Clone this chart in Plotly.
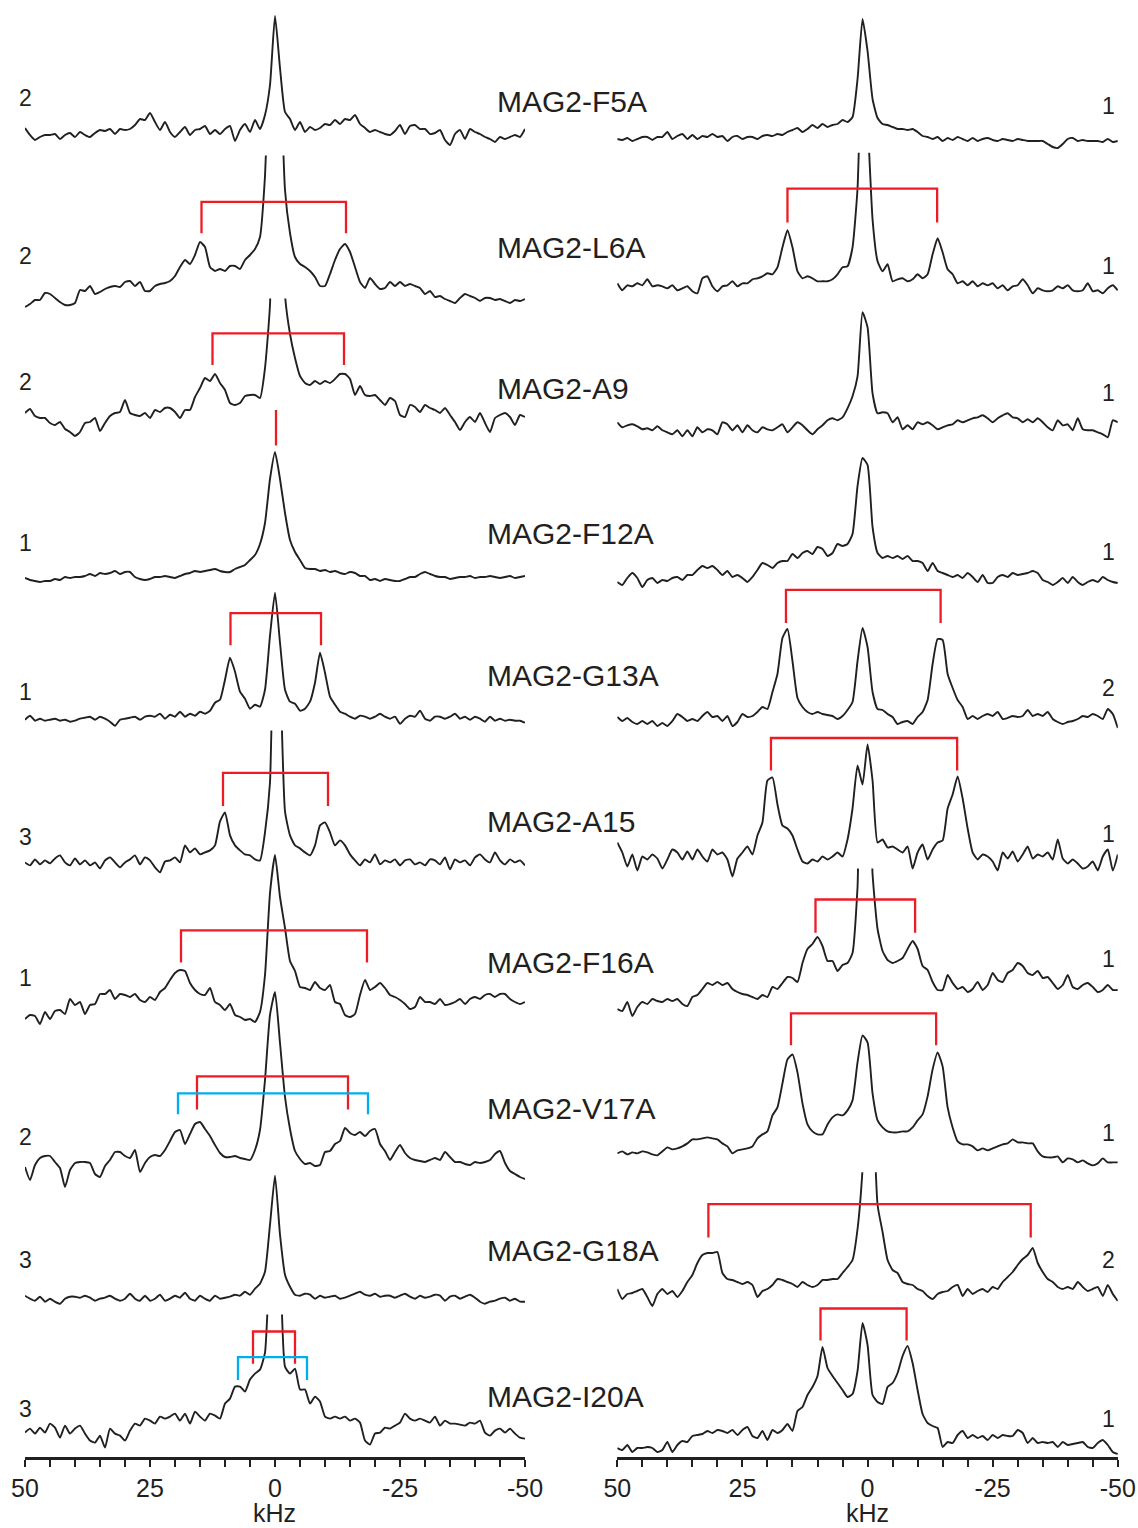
import plotly.graph_objects as go

# ---------------- data ----------------
KHZ = list(range(50, -51, -1))  # sampling grid, kHz (50 ... -50)

ROW_NAMES = ["MAG2-F5A", "MAG2-L6A", "MAG2-A9", "MAG2-F12A", "MAG2-G13A",
             "MAG2-A15", "MAG2-F16A", "MAG2-V17A", "MAG2-G18A", "MAG2-I20A"]
LEFT_SCALE = ["2", "2", "2", "1", "1", "3", "1", "2", "3", "3"]
RIGHT_SCALE = ["1", "1", "1", "1", "2", "1", "1", "1", "2", "1"]
TICK_VALS = [50, 25, 0, -25, -50]
TICK_TEXT = ["50", "25", "0", "-25", "-50"]

# left column spectra (intensity, arbitrary units), k = 50 ... -50
L_F5A = [5, -2, -7, -4, -2, -2, -1, -6, -2, 0,
         -4, 1, -2, -4, 0, 3, 2, 4, -1, 4,
         3, 4, 8, 14, 13, 20, 11, 3, 11, 1,
         -4, 1, 6, -2, 3, 4, 7, -1, 3, -1,
         4, 7, -8, 3, 9, 1, 13, 4, 18, 48,
         117,
         65, 21, 14, 3, 11, 1, 6, 3, 5, 9,
         8, 13, 9, 14, 13, 18, 9, 5, 1, 3,
         1, -1, -2, 2, 8, -1, 7, 8, 4, 4,
         -1, 0, 3, -7, -12, -1, 3, -6, 4, 1,
         -1, -4, -6, -9, -4, -6, -4, -2, -4, 4]
L_L6A = [-9, -6, -2, -2, 5, 4, 0, -4, -7, -7,
         -5, 8, 7, 12, 4, 6, 9, 11, 12, 11,
         16, 17, 12, 16, 7, 7, 12, 14, 15, 17,
         22, 31, 38, 34, 43, 56, 51, 31, 27, 29,
         27, 32, 32, 29, 38, 43, 49, 61, 122, 250,
         400,
         250, 108, 65, 41, 34, 31, 27, 21, 12, 12,
         24, 38, 49, 54, 46, 31, 16, 10, 20, 14,
         9, 10, 16, 12, 16, 12, 14, 12, 10, 4,
         7, 1, 2, -1, -3, -5, 0, 4, 2, 0,
         -3, 0, 0, -2, -1, -3, -5, -2, -3, -1]
L_A9 = [2, 6, -1, -3, -3, -8, -10, -7, -14, -17,
        -21, -17, -8, -7, -3, -16, -8, -1, 2, 3,
        15, 2, 0, -1, 2, -3, 5, 3, 7, 7,
        3, -3, 5, 5, 18, 27, 37, 34, 41, 32,
        25, 12, 10, 12, 19, 20, 20, 17, 47, 110,
        300,
        300, 120, 81, 57, 39, 32, 30, 34, 31, 34,
        32, 36, 41, 41, 36, 20, 29, 20, 19, 20,
        15, 10, 17, 14, 0, -2, 10, 8, 3, 10,
        7, 5, 2, 7, 0, -7, -15, -7, -2, -7,
        2, -8, -17, -3, 0, 2, -2, -10, 0, -2]
L_F12A = [1, -1, -2, -3, -2, -2, 0, -1, 2, 1,
          2, 2, 3, 5, 3, 6, 5, 6, 8, 5,
          7, 7, 2, 0, -1, 0, 2, 2, 3, 2,
          1, 3, 5, 6, 8, 7, 8, 9, 10, 8,
          7, 7, 10, 12, 14, 19, 24, 35, 56, 100,
          127,
          100, 66, 39, 27, 19, 11, 10, 10, 8, 9,
          7, 8, 6, 5, 7, 6, 3, 3, -1, 0,
          -2, 0, -1, -2, -2, 0, 2, 2, 5, 7,
          5, 3, 2, 2, 0, 1, 2, 2, 3, 1,
          2, 2, 3, 2, 1, 2, 3, 1, 2, 3]
L_G13A = [-1, 3, -2, 0, -2, -1, 0, -2, -1, -3,
          -2, 0, 1, 2, -1, 2, 0, -3, -7, -1,
          0, 1, 2, -1, 2, 3, 2, 5, 0, 4,
          2, 7, 2, 5, 3, 7, 5, 8, 16, 19,
          39, 61, 47, 27, 20, 10, 14, 12, 29, 83,
          126,
          76, 29, 17, 15, 8, 10, 17, 36, 66, 46,
          22, 14, 7, 5, 2, 0, 3, 2, 0, 2,
          5, 2, 0, 2, -5, 0, 3, 2, 8, 0,
          -2, 2, 2, 0, 2, 5, 0, 2, -1, 2,
          0, -3, 2, -2, 0, -2, -1, -2, -2, -4]
L_A15 = [0, -3, 3, -2, 2, -1, 4, 7, 0, -3,
         4, -2, 2, -3, 0, -6, 2, 5, 0, -5,
         0, 3, 7, -2, 5, 2, -5, -10, 1, 2,
         5, 0, 17, 10, 14, 8, 10, 12, 17, 41,
         50, 27, 17, 12, 8, 7, 3, 2, 30, 80,
         300,
         200, 51, 27, 17, 14, 10, 7, 17, 37, 40,
         30, 17, 22, 17, 8, 2, -3, 3, 0, 8,
         -2, 2, 0, 3, -3, 2, 3, -2, 0, -3,
         3, 2, -2, 5, -7, 3, 0, 2, -3, 5,
         8, 3, 0, 10, 2, -2, 3, 0, 2, -3]
L_F16A = [-14, -10, -11, -19, -7, -14, -6, -5, -9, 6,
          0, 3, -9, 0, 1, 11, 11, 15, 6, 11,
          10, 8, 11, 5, 3, 8, 5, 13, 17, 25,
          32, 35, 34, 22, 15, 11, 10, 17, 3, 0,
          -5, 1, -10, -12, -15, -14, -17, -7, 30, 112,
          150,
          108, 77, 44, 34, 18, 17, 15, 23, 17, 15,
          20, 3, 1, -10, -12, -9, 10, 25, 15, 18,
          22, 17, 10, 8, 5, 1, -4, -2, 8, 3,
          3, 1, 6, 0, 1, 3, 6, 1, 6, 8,
          6, 10, 11, 8, 11, 11, 6, 3, 1, 3]
L_V17A = [-7, -20, -5, 2, 4, 4, -2, -8, -27, -10,
          -3, -2, -2, -3, -14, -17, -6, 0, 8, 8,
          4, 2, 10, -12, -3, 3, 5, 4, 10, 19,
          28, 30, 16, 26, 36, 38, 31, 24, 15, 7,
          3, 3, 4, 2, 1, 0, 10, 30, 80, 145,
          168,
          117, 63, 31, 9, 1, -4, -3, -6, -5, 8,
          9, 16, 19, 32, 27, 25, 28, 24, 29, 31,
          16, 9, 0, 8, 15, 7, 2, 0, -1, -2,
          0, 2, 0, 8, 3, -2, -2, -4, -5, -2,
          -3, -2, 0, 6, 9, -3, -11, -14, -17, -19]
L_G18A = [3, 0, -2, 2, -3, 0, -3, -5, 0, 2,
          2, 1, 3, 1, -2, 0, 1, 3, 0, -2,
          0, 5, 0, -2, 3, -2, 0, 4, -2, 0,
          3, 1, 6, 0, -2, 3, 0, -2, 3, 0,
          1, 2, 4, 3, 7, 4, 10, 15, 27, 74,
          123,
          64, 24, 12, 4, 3, 5, 4, 0, 3, 1,
          2, 3, 0, 1, 3, 5, 7, 4, 3, 5,
          2, 3, 3, 1, 3, 5, 2, 0, 3, 1,
          2, 4, 3, -2, 2, 3, 0, 2, 4, 1,
          -3, -5, -3, -2, 0, 1, -2, 0, -3, -3]
L_I20A = [-2, 2, -3, 3, -2, 7, 3, -7, 5, -3,
          2, 5, -3, -10, -12, -5, -17, 2, -3, -5,
          -10, 0, 7, 5, 12, 10, 7, 14, 12, 14,
          17, 10, 17, 7, 19, 14, 10, 17, 15, 12,
          27, 32, 44, 44, 39, 51, 57, 61, 78, 180,
          250,
          180, 64, 57, 62, 41, 41, 27, 34, 29, 14,
          12, 14, 12, 14, 10, 12, 8, -10, -14, -3,
          -2, 3, 2, 5, 8, 17, 12, 10, 12, 10,
          8, 14, 5, 10, 7, 7, 6, 5, 8, 7,
          10, -2, -5, 0, 2, -2, 2, -3, -7, -8]

# right column spectra
R_F5A = [0, -1, 1, -2, 0, 2, 2, -1, 2, 2,
         7, 0, 3, 5, 0, 4, 0, 3, 2, 5,
         2, 3, -2, 2, 3, 0, 2, 2, 0, 3,
         4, 3, 5, 4, 7, 9, 11, 7, 10, 14,
         11, 15, 12, 14, 15, 19, 17, 22, 60, 120,
         88,
         40, 21, 15, 14, 12, 10, 10, 9, 10, 7,
         3, 2, 0, 2, -2, 1, -1, 2, 0, -2,
         1, -2, 0, 1, -1, -2, 0, -1, -2, 0,
         -1, -2, -2, -2, -2, -5, -8, -9, -5, 0,
         1, -2, -1, -2, -2, -2, -3, 0, -3, -2]
R_L6A = [5, -2, 3, 2, 5, 3, 9, 2, 3, 2,
         0, 3, -2, 0, 2, -3, -5, 10, 12, 2,
         -3, 2, 3, 7, 2, 5, 5, 9, 10, 12,
         15, 14, 21, 41, 58, 41, 17, 10, 12, 10,
         7, 7, 7, 9, 14, 21, 22, 41, 100, 250,
         170,
         69, 27, 17, 24, 7, 9, 10, 7, 9, 14,
         10, 14, 34, 50, 36, 19, 14, 5, 7, 3,
         7, 2, 5, 3, 5, 0, 3, -2, 2, 3,
         9, 3, -5, 0, -2, -3, -2, 2, 0, 3,
         -2, -3, -2, 5, -3, -2, -5, 0, 3, -2]
R_A9 = [5, 0, 2, 3, 1, -2, -1, -3, 1, -3,
        -5, -7, -3, -9, -3, -9, 0, -5, -2, -3,
        -7, 5, 3, -3, 2, -5, 2, -3, -5, 0,
        -2, -3, 0, 3, -5, 0, 5, 2, -3, -7,
        -2, 2, 7, 9, 7, 10, 19, 31, 51, 115,
        100,
        34, 14, 15, 14, 5, 10, -2, 2, -2, 5,
        3, 5, 2, -2, 0, 2, 3, 7, 5, 7,
        9, 10, 12, 9, 5, 9, 12, 14, 10, 9,
        5, 8, 5, 9, 5, 0, -3, 7, 2, 3,
        -3, 9, -2, -3, -3, -5, -7, -10, 7, 5]
R_F12A = [-2, -5, 2, 7, 2, -7, 0, 2, -3, 0,
          -1, 2, 3, 0, 5, 5, 10, 14, 12, 14,
          10, 5, 9, 3, 5, 2, -2, 3, 10, 17,
          15, 12, 17, 19, 19, 26, 22, 27, 29, 26,
          33, 31, 24, 27, 36, 34, 36, 46, 94, 122,
          115,
          53, 27, 22, 24, 22, 24, 21, 24, 19, 19,
          17, 9, 17, 9, 7, 5, 3, 5, 2, 7,
          3, -2, 5, -3, -3, 3, 5, 3, 7, 5,
          6, 7, 9, 7, 0, -2, -5, -2, 2, -3,
          3, -2, -5, -2, 0, -2, 3, 0, -2, -3]
R_G13A = [2, -2, 1, -3, -5, -2, -5, -2, -7, -4,
          -7, -2, 5, 2, -2, 0, -2, 3, 7, 2,
          3, -2, 3, -7, -3, 5, 2, 3, 7, 12,
          10, 27, 45, 81, 90, 58, 21, 12, 7, 5,
          7, 5, 4, 3, 0, 3, 9, 17, 58, 91,
          72,
          27, 10, 9, 5, 2, -5, -3, -2, -5, 2,
          7, 19, 55, 80, 79, 45, 31, 19, 12, 0,
          3, 0, 3, 5, 3, 7, 0, 1, 3, 2,
          3, 9, 3, 5, 3, 7, 0, -3, -5, -3,
          -2, 0, 3, 2, 5, 3, 0, 10, 5, -9]
R_A15 = [19, 9, -5, 7, -9, 5, 2, 7, 3, -7,
         2, 12, 9, 2, 10, 2, 12, 5, 0, 12,
         7, 9, 2, -15, 3, 9, 15, 7, 26, 39,
         81, 84, 57, 36, 33, 26, 12, 0, -2, 2,
         0, 5, 2, 5, 9, 5, 22, 53, 96, 77,
         117,
         81, 19, 22, 14, 15, 12, 9, 15, -7, 9,
         17, 2, 12, 19, 21, 53, 67, 85, 63, 33,
         9, 2, 7, 5, 0, -9, 9, 3, 10, 0,
         7, 15, 3, 7, 5, 9, 2, 22, 3, -2,
         2, -2, -7, -5, 0, -9, 5, 12, -9, 7]
R_F16A = [-19, -21, -12, -26, -17, -12, -14, -9, -11, -12,
          -9, -11, -9, -14, -16, -7, -5, 1, 7, 5,
          8, 5, 7, 1, -2, -4, -5, -7, -9, -5,
          -7, 3, 1, 7, 13, 12, 8, 27, 41, 46,
          53, 44, 29, 29, 19, 25, 27, 37, 103, 250,
          250,
          116, 61, 39, 30, 27, 29, 32, 41, 49, 41,
          24, 20, 8, 0, 0, 15, 7, 1, 3, -2,
          1, 8, 0, 5, 17, 10, 8, 17, 20, 27,
          24, 17, 15, 19, 12, 13, 7, 1, 5, 15,
          3, 1, 5, 7, 3, -2, 0, 5, 0, 0]
R_V17A = [0, 2, -1, 1, 0, 2, 1, -1, -2, 2,
          6, 4, 5, 7, 10, 14, 14, 15, 16, 15,
          14, 10, 7, 0, 3, 4, 5, 7, 15, 19,
          22, 38, 46, 70, 94, 99, 81, 50, 29, 22,
          19, 19, 29, 36, 39, 38, 43, 53, 91, 118,
          111,
          60, 33, 26, 22, 21, 21, 22, 22, 26, 33,
          39, 57, 84, 101, 87, 46, 26, 12, 9, 9,
          7, 3, 5, 3, 5, 7, 9, 10, 14, 11,
          11, 10, 10, 2, -3, -4, -4, -3, -9, -5,
          -6, -9, -7, -10, -12, -10, -5, -9, -9, -9]
R_G18A = [5, -5, 0, 1, 3, 5, -3, -12, 0, 5,
          0, 3, -3, 3, 12, 19, 31, 39, 41, 41,
          42, 21, 15, 14, 12, 10, 12, 9, -3, 3,
          5, 9, 15, 14, 12, 10, 7, 12, 9, 7,
          9, 14, 14, 15, 15, 21, 27, 34, 65, 125,
          250,
          200, 89, 62, 34, 24, 21, 12, 10, 9, 5,
          3, -2, -5, 0, 2, 3, 7, 9, -2, 5,
          0, 3, 5, 2, 7, 5, 12, 17, 22, 29,
          35, 39, 46, 31, 22, 15, 12, 7, 5, 7,
          5, 12, 7, 3, 5, 7, -2, 9, 0, -7]
R_I20A = [-3, -5, 0, -7, -3, -3, -2, -3, -7, -5,
          3, -7, 0, 4, 3, 9, 10, 11, 14, 12,
          15, 14, 12, 15, 10, 15, 18, 9, 7, 14,
          5, 15, 12, 15, 21, 14, 34, 38, 50, 58,
          69, 98, 77, 69, 62, 55, 48, 51, 74, 122,
          100,
          50, 43, 41, 58, 62, 72, 89, 99, 82, 55,
          31, 22, 19, 17, -2, 3, 2, 10, 14, 7,
          10, 7, 9, 5, 10, 7, 10, 9, 9, 15,
          12, 2, 7, 2, 3, 2, 3, -2, 3, 0,
          1, 2, 3, -2, -3, 2, 5, 0, -7, -9]

LEFT_SPECTRA = [L_F5A, L_L6A, L_A9, L_F12A, L_G13A, L_A15, L_F16A, L_V17A, L_G18A, L_I20A]
RIGHT_SPECTRA = [R_F5A, R_L6A, R_A9, R_F12A, R_G13A, R_A15, R_F16A, R_V17A, R_G18A, R_I20A]

# quadrupolar splitting markers: (panel, row, left kHz, right kHz, colour key)
BRACKET_KHZ = [
    ("L", 1, 14.7, -14.2, "red"),
    ("L", 2, 12.5, -13.8, "red"),
    ("L", 3, -0.2, -0.2, "red"),
    ("L", 4, 8.9, -9.2, "red"),
    ("L", 5, 10.4, -10.6, "red"),
    ("L", 6, 18.8, -18.4, "red"),
    ("L", 7, 15.6, -14.6, "red"),
    ("L", 7, 19.4, -18.6, "blue"),
    ("L", 9, 4.4, -4.0, "red"),
    ("L", 9, 7.4, -6.4, "blue"),
    ("R", 1, 16.0, -13.9, "red"),
    ("R", 4, 16.3, -14.6, "red"),
    ("R", 5, 19.3, -17.9, "red"),
    ("R", 6, 10.4, -9.5, "red"),
    ("R", 7, 15.3, -13.7, "red"),
    ("R", 8, 31.8, -32.6, "red"),
    ("R", 9, 9.4, -7.8, "red"),
]

# ---------------- layout / style ----------------
W, H = 1138, 1528
INK = "#231f20"
FONT = "Liberation Sans, Arial, Helvetica, sans-serif"
COLORS = {"red": "#ed1c24", "blue": "#00aeef"}

LEFT_BASE_PX = [133, 298, 415, 579, 718.7, 862.4, 1005, 1160, 1298.7, 1430.6]
RIGHT_BASE_PX = [139, 288.3, 427.3, 580, 719, 861.5, 990, 1153.4, 1294, 1445]
LEFT_CLIP_PX = [None, 155.5, 298.5, None, None, 730.5, None, None, None, 1314.6]
RIGHT_CLIP_PX = [None, 152.7, None, None, None, None, 868.6, None, 1172.3, None]
BRACKET_Y_PX = [
    (201.8, 233.3), (333.3, 365), (410, 445.5), (613.2, 645.3), (772.8, 805.9),
    (930.3, 962.4), (1076.4, 1109.5), (1093.3, 1114.2), (1331.5, 1363.7), (1357.2, 1379.9),
    (188.7, 222.4), (589.8, 623), (738, 770.6), (899.5, 932.8), (1013.4, 1045.3),
    (1204.2, 1237.5), (1308.5, 1340.5),
]
LABEL_X_PX = [495, 495, 495, 485, 485, 485, 485, 485, 485, 485]
LABEL_Y_PX = [102, 247.6, 388.5, 534, 675.6, 821, 962, 1108, 1250, 1396]
LSCALE_Y_PX = [98, 256, 382, 543, 692, 837, 978, 1137, 1260, 1409]
RSCALE_Y_PX = [106, 265.6, 393, 552.5, 688, 834, 958.5, 1133, 1260, 1418.5]
AXIS_Y_PX = 1458
LEFT_X_PX = (25, 525)
RIGHT_X_PX = (617.3, 1117.8)


def px_x(p):
    return p / W


def px_y(p):
    return 1 - p / H


fig = go.Figure()
layout = dict(
    width=W, height=H, margin=dict(l=0, r=0, t=0, b=0, autoexpand=False),
    paper_bgcolor="white", plot_bgcolor="rgba(0,0,0,0)",
    showlegend=False, font=dict(family=FONT, color=INK),
)

for name, dom in (("xaxis", LEFT_X_PX), ("xaxis2", RIGHT_X_PX)):
    layout[name] = dict(
        domain=[px_x(dom[0]), px_x(dom[1])], range=[50, -50],
        anchor="free", position=px_y(AXIS_Y_PX), automargin=False,
        showline=True, linecolor=INK, linewidth=2.5,
        ticks="outside", ticklen=7, tickwidth=2, tickcolor=INK,
        tickmode="array", tickvals=TICK_VALS, ticktext=TICK_TEXT,
        tickfont=dict(size=25, family=FONT, color=INK),
        minor=dict(tickmode="linear", tick0=0, dtick=5, ticks="outside",
                   ticklen=7, tickwidth=2, tickcolor=INK, showgrid=False),
        showgrid=False, zeroline=False, fixedrange=True,
    )

annotations = []
shapes = []


def add_panel(spectra, bases, clips, offset, xname):
    for i, (vals, base, clip) in enumerate(zip(spectra, bases, clips)):
        idx = offset + i + 1
        top_px = clip if clip is not None else max(0.0, base - 200)
        bot_px = min(H, base + 55)
        key = "yaxis" if idx == 1 else f"yaxis{idx}"
        layout[key] = dict(
            domain=[px_y(bot_px), px_y(top_px)],
            range=[base - bot_px, base - top_px],
            visible=False, fixedrange=True, anchor=xname, automargin=False,
        )
        fig.add_trace(go.Scatter(
            x=KHZ, y=vals, mode="lines",
            line=dict(color=INK, width=1.9, shape="spline", smoothing=0.5),
            xaxis=xname, yaxis="y" if idx == 1 else f"y{idx}",
            hoverinfo="skip", showlegend=False,
        ))


add_panel(LEFT_SPECTRA, LEFT_BASE_PX, LEFT_CLIP_PX, 0, "x")
add_panel(RIGHT_SPECTRA, RIGHT_BASE_PX, RIGHT_CLIP_PX, 10, "x2")

for (panel, row, kl, kr, ckey), (top_px, bot_px) in zip(BRACKET_KHZ, BRACKET_Y_PX):
    base = (LEFT_BASE_PX if panel == "L" else RIGHT_BASE_PX)[row]
    idx = row + 1 if panel == "L" else row + 11
    yt = base - top_px
    yb = base - bot_px
    shapes.append(dict(
        type="path", path=f"M {kl},{yb} L {kl},{yt} L {kr},{yt} L {kr},{yb}",
        xref="x" if panel == "L" else "x2",
        yref="y" if idx == 1 else f"y{idx}",
        line=dict(color=COLORS[ckey], width=2.3), layer="above",
    ))

for i, name in enumerate(ROW_NAMES):
    annotations.append(dict(
        text=name, x=px_x(LABEL_X_PX[i]), y=px_y(LABEL_Y_PX[i]),
        xref="paper", yref="paper", xanchor="left", yanchor="middle",
        showarrow=False, font=dict(size=30, family=FONT, color=INK),
    ))
    annotations.append(dict(
        text=LEFT_SCALE[i], x=px_x(25), y=px_y(LSCALE_Y_PX[i]),
        xref="paper", yref="paper", xanchor="center", yanchor="middle",
        showarrow=False, font=dict(size=23, family=FONT, color=INK),
    ))
    annotations.append(dict(
        text=RIGHT_SCALE[i], x=px_x(1108), y=px_y(RSCALE_Y_PX[i]),
        xref="paper", yref="paper", xanchor="center", yanchor="middle",
        showarrow=False, font=dict(size=23, family=FONT, color=INK),
    ))

for cx in (274.3, 867.5):
    annotations.append(dict(
        text="kHz", x=px_x(cx), y=0,
        xref="paper", yref="paper", xanchor="center", yanchor="bottom",
        borderpad=0, showarrow=False, font=dict(size=25, family=FONT, color=INK),
    ))

layout["annotations"] = annotations
layout["shapes"] = shapes
fig.update_layout(**layout)
fig.write_html("out.html")
